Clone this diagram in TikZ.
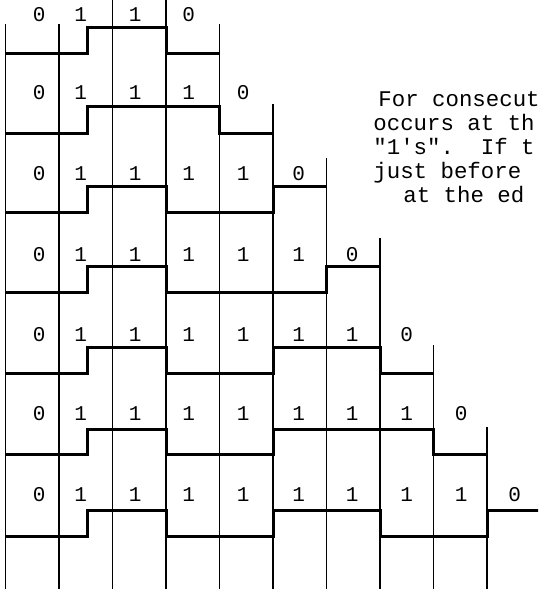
\documentclass[tikz,border=0pt]{standalone}
\usepackage{fontspec}
\setmonofont{Liberation Mono}
\begin{document}
\begin{tikzpicture}[x=0.5pt,y=-0.5pt,
  gridline/.style={line width=0.6pt},
  wave/.style={line width=1.5pt, line join=miter},
  bit/.style={font=\ttfamily\fontsize{10.5}{12}\selectfont, inner sep=0pt, anchor=center},
  note/.style={font=\ttfamily\fontsize{11.2}{13}\selectfont, inner sep=0pt, anchor=base west}]
\useasboundingbox (0,0) rectangle (538,589);
\clip (0,0) rectangle (538,589);
% vertical cell lines
\foreach \k/\t in {0/24,1/24,2/0,3/0,4/24,5/104,6/158,7/238,8/345,9/427}
  \draw[gridline] ({5.5+53.5*\k},\t) -- ({5.5+53.5*\k},589);
% waveforms
\draw[wave] (5.5,53)--(87.5,53)--(87.5,27)--(166,27)--(166,53)--(219.5,53);
\draw[wave] (5.5,133)--(87.5,133)--(87.5,106)--(219.5,106)--(219.5,133)--(273,133);
\draw[wave] (5.5,212)--(87.5,212)--(87.5,186)--(166,186)--(166,212)--(273,212)--(273,186)--(326.5,186);
\draw[wave] (5.5,292)--(87.5,292)--(87.5,266)--(166,266)--(166,292)--(326.5,292)--(326.5,266)--(380,266);
\draw[wave] (5.5,373)--(87.5,373)--(87.5,347)--(166,347)--(166,373)--(273,373)--(273,347)--(380,347)--(380,373)--(433.5,373);
\draw[wave] (5.5,454)--(87.5,454)--(87.5,429)--(166,429)--(166,454)--(273,454)--(273,429)--(433.5,429)--(433.5,454)--(487,454);
\draw[wave] (5.5,536)--(87.5,536)--(87.5,510)--(166,510)--(166,536)--(273,536)--(273,510)--(380,510)--(380,536)--(487,536)--(487,510)--(545,510);
% bit labels
\foreach \r/\ty in {0/15,1/93,2/174,3/255,4/335,5/414,6/495}{
  \pgfmathtruncatemacro\n{\r+3}
  \foreach \c in {0,...,\n}{
    \pgfmathtruncatemacro\b{and(\c>0,\c<\n)}
    \pgfmathsetmacro\dx{{7,-5,-4,-4,-3,-1,-1,0,1,1}[\c]}
    \node[bit] (b\r-\c) at ({32.25+53.5*\c+\dx},\ty) {\b};
  }
}
% side text
\node[note] (n1) at (378,106) {For consecut};
\node[note] (n2) at (373,130) {occurs at th};
\node[note] (n3) at (373,154) {"1's".\ \ If t};
\node[note] (n4) at (373,178) {just before};
\node[note] (n5) at (403,202) {at the ed};
\end{tikzpicture}
\end{document}
